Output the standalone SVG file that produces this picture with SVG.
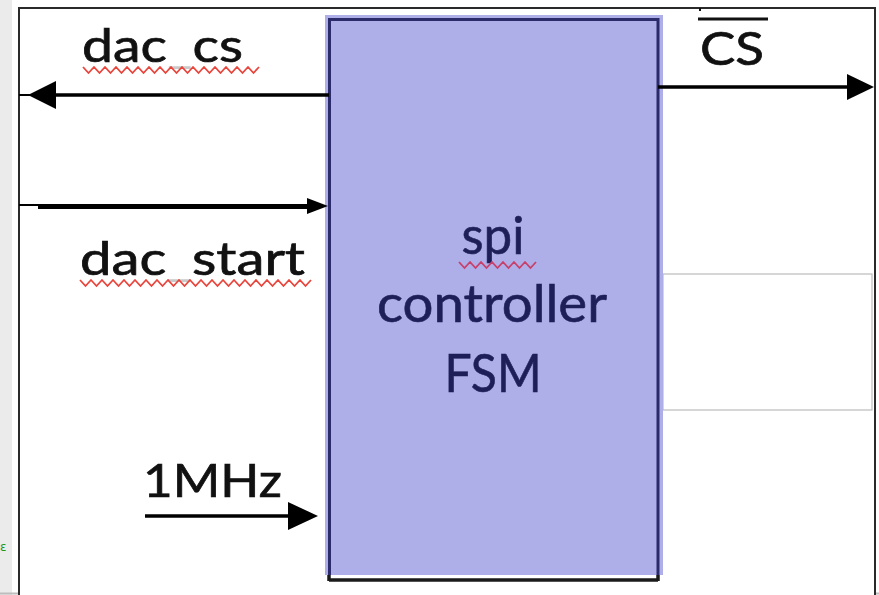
<svg xmlns="http://www.w3.org/2000/svg" width="879" height="595" viewBox="0 0 879 595">
  <style>
    .lbl { font-family: Lato, "Open Sans", "Liberation Sans", sans-serif; fill: #111; stroke: #111; stroke-width: 0.7; }
    .blk { font-family: Lato, "Open Sans", "Liberation Sans", sans-serif; fill: #1e1e58; stroke: #1e1e58; stroke-width: 0.6; text-anchor: middle; }
    .wire { stroke: #000; fill: none; }
    .faint { fill: #666; stroke: none; fill-opacity: 0.35; }
    .squig { fill: none; stroke: #e8453c; stroke-width: 1.8; stroke-linejoin: miter; }
  </style>

  <!-- page background -->
  <rect x="0" y="0" width="879" height="595" fill="#ffffff"/>
  <rect x="0" y="0" width="12" height="595" fill="#ebebeb"/>
  <line x1="0" y1="593.5" x2="879" y2="593.5" stroke="#bdbdbd" stroke-width="2"/>
  <text x="0" y="551" font-family="'DejaVu Sans', sans-serif" font-size="12" fill="#1a9a1a">ε</text>

  <!-- outer frame -->
  <rect x="19" y="8" width="856" height="590" fill="#ffffff" stroke="#2a2a2a" stroke-width="2"/>

  <!-- side panel -->
  <g id="panel">
    <rect x="663" y="274" width="209" height="136" fill="#ffffff" stroke="#bbbbbb" stroke-width="1.2"/>
  </g>

  <!-- controller block -->
  <g id="spi-controller">
    <line x1="329" y1="580" x2="658" y2="580" stroke="#1a1a1a" stroke-width="3.5"/>
    <line x1="658" y1="560" x2="658" y2="581" stroke="#1a1a1a" stroke-width="3.5"/>
    <line x1="329" y1="560" x2="329" y2="581" stroke="#1a1a1a" stroke-width="3.5"/>
    <rect x="325" y="15" width="338" height="560" fill="#aeaee8"/>
    <path d="M329.5 575 V19.5 H658 V575" fill="none" stroke="#2b2b6b" stroke-width="3"/>
    <text class="blk" x="493" y="254" font-size="52" textLength="63" lengthAdjust="spacingAndGlyphs">spi</text>
    <text class="blk" x="492" y="322" font-size="52" textLength="230" lengthAdjust="spacingAndGlyphs">controller</text>
    <text class="blk" x="493" y="392" font-size="52" textLength="97" lengthAdjust="spacingAndGlyphs">FSM</text>
    <path class="squig" style="stroke:#c8406a" d="M459 262 l5.5 6 l5.5 -6 l5.5 6 l5.5 -6 l5.5 6 l5.5 -6 l5.5 6 l5.5 -6 l5.5 6 l5.5 -6 l5.5 6 l5.5 -6 l5.5 6 l5.5 -6"/>
  </g>

  <!-- connectors -->
  <g id="connectors">
    <!-- dac_cs out to the left -->
    <line class="wire" x1="19" y1="95" x2="30" y2="95" stroke-width="2"/>
    <line class="wire" x1="50" y1="95" x2="329" y2="95" stroke-width="3.5"/>
    <polygon points="28,95 56,81 56,109" fill="#000"/>
    <!-- CS out to the right -->
    <line class="wire" x1="658" y1="87" x2="850" y2="87" stroke-width="3.5"/>
    <polygon points="874,87 847,74 847,100" fill="#000"/>
    <!-- dac_start in -->
    <line class="wire" x1="19" y1="205" x2="38" y2="205" stroke-width="2"/>
    <line class="wire" x1="38" y1="206.5" x2="310" y2="206.5" stroke-width="5"/>
    <polygon points="328,206 307,198 307,214" fill="#000"/>
    <!-- 1MHz clock in -->
    <line class="wire" x1="145" y1="516" x2="292" y2="516" stroke-width="3.5"/>
    <polygon points="318,516 288,502 288,530" fill="#000"/>
  </g>

  <!-- signal labels -->
  <g id="label-dac_cs">
    <text class="lbl" x="82" y="62" font-size="46" textLength="161" lengthAdjust="spacingAndGlyphs">dac<tspan class="faint">_</tspan>cs</text>
    <path class="squig" d="M83 67 l5.5 6 l5.5 -6 l5.5 6 l5.5 -6 l5.5 6 l5.5 -6 l5.5 6 l5.5 -6 l5.5 6 l5.5 -6 l5.5 6 l5.5 -6 l5.5 6 l5.5 -6 l5.5 6 l5.5 -6 l5.5 6 l5.5 -6 l5.5 6 l5.5 -6 l5.5 6 l5.5 -6 l5.5 6 l5.5 -6 l5.5 6 l5.5 -6 l5.5 6 l5.5 -6 l5.5 6 l5.5 -6 l5.5 6 l5.5 -6"/>
  </g>
  <g id="label-cs">
    <text class="lbl" x="700" y="65" font-size="46" textLength="64" lengthAdjust="spacingAndGlyphs">CS</text>
    <line x1="698" y1="19" x2="768" y2="19" stroke="#111" stroke-width="3"/>
    <line x1="700" y1="8" x2="700" y2="11" stroke="#111" stroke-width="2"/>
  </g>
  <g id="label-dac_start">
    <text class="lbl" x="80" y="275" font-size="46" textLength="225" lengthAdjust="spacingAndGlyphs">dac<tspan class="faint">_</tspan>start</text>
    <path class="squig" d="M80 280 l5.5 6 l5.5 -6 l5.5 6 l5.5 -6 l5.5 6 l5.5 -6 l5.5 6 l5.5 -6 l5.5 6 l5.5 -6 l5.5 6 l5.5 -6 l5.5 6 l5.5 -6 l5.5 6 l5.5 -6 l5.5 6 l5.5 -6 l5.5 6 l5.5 -6 l5.5 6 l5.5 -6 l5.5 6 l5.5 -6 l5.5 6 l5.5 -6 l5.5 6 l5.5 -6 l5.5 6 l5.5 -6 l5.5 6 l5.5 -6 l5.5 6 l5.5 -6 l5.5 6 l5.5 -6 l5.5 6 l5.5 -6 l5.5 6 l5.5 -6 l5.5 6 l5.5 -6"/>
  </g>
  <g id="label-1mhz">
    <text class="lbl" x="143" y="497" font-size="46" textLength="139" lengthAdjust="spacingAndGlyphs">1MHz</text>
  </g>
</svg>
